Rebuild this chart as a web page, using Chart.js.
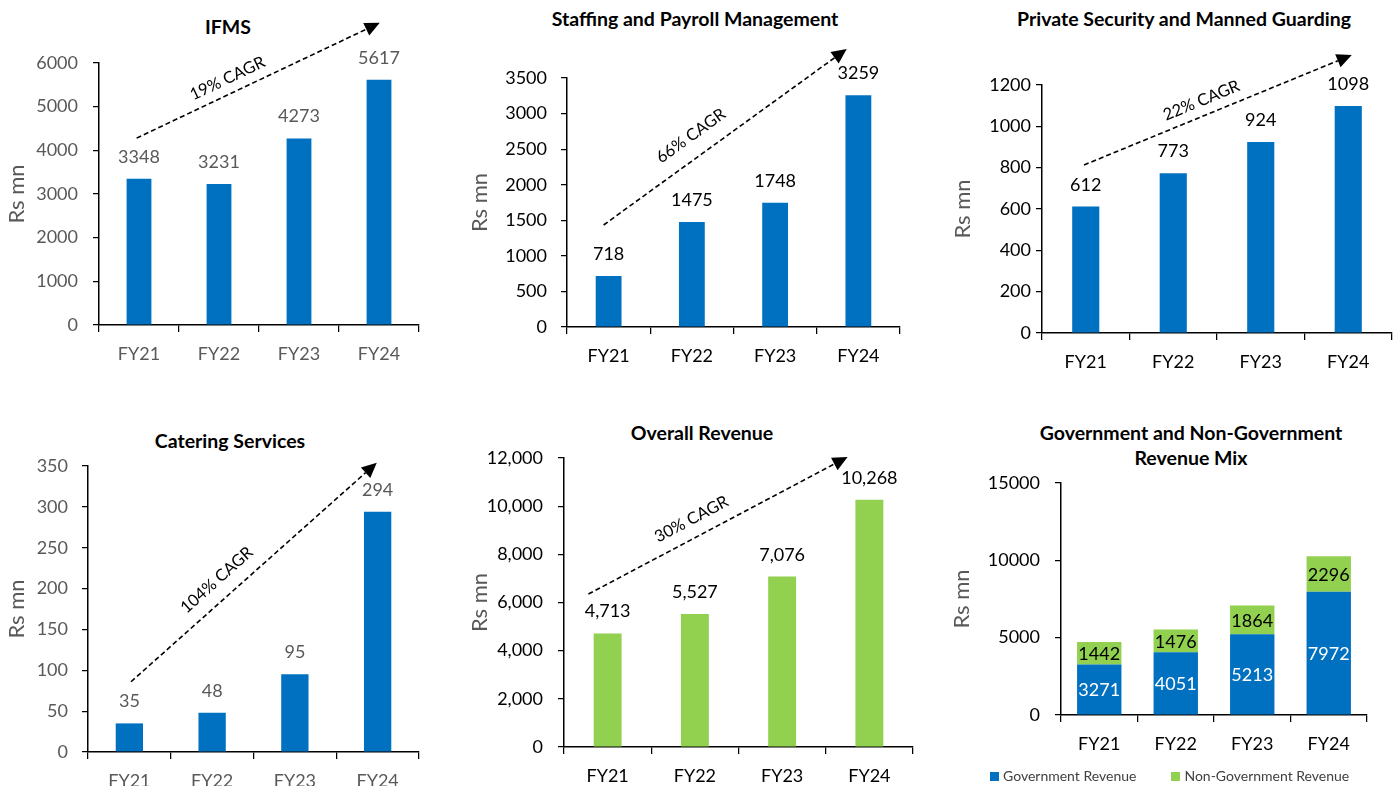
<!DOCTYPE html>
<html lang="en">
<head>
<meta charset="UTF-8" />
<title>Segment revenue FY21-FY24</title>
<script src="https://cdn.jsdelivr.net/npm/chart.js@4.4.1/dist/chart.umd.min.js"></script>
<style>
  html, body { margin: 0; padding: 0; background: #fff; overflow: hidden; }
  body { width: 1400px; height: 786px; position: relative; font-family: Lato, "Open Sans", sans-serif; }
  canvas { position: absolute; }
  .title { position: absolute; width: 500px; text-align: center; font-weight: 700; font-size: 19.5px; line-height: 25px; color: #000; }
  #legend6 { position: absolute; left: 990px; top: 766px; display: flex; font-size: 14px; line-height: 20px; color: #404040; white-space: nowrap; }
  #legend6 .item { display: flex; align-items: center; margin-right: 35px; }
  #legend6 .sw { width: 9px; height: 9px; margin-right: 4px; }
</style>
</head>
<body>
<div class="title" style="left:-22px;top:14px">IFMS</div>
<div class="title" style="left:445px;top:6px">Staffing and Payroll Management</div>
<div class="title" style="left:934px;top:6px">Private Security and Manned Guarding</div>
<div class="title" style="left:-20px;top:428px">Catering Services</div>
<div class="title" style="left:452px;top:420px">Overall Revenue</div>
<div class="title" style="left:941px;top:420px">Government and Non-Government<br>Revenue Mix</div>

<canvas id="c1" width="460" height="390" style="left:0;top:0"></canvas>
<canvas id="c2" width="470" height="390" style="left:460px;top:0"></canvas>
<canvas id="c3" width="470" height="390" style="left:930px;top:0"></canvas>
<canvas id="c4" width="460" height="390" style="left:0;top:410px"></canvas>
<canvas id="c5" width="470" height="390" style="left:460px;top:410px"></canvas>
<canvas id="c6" width="470" height="390" style="left:930px;top:410px"></canvas>
<div id="legend6"></div>

<script>
// values in Rs mn
const years = ["FY21", "FY22", "FY23", "FY24"];
const ifms = [3348, 3231, 4273, 5617];
const staffing = [718, 1475, 1748, 3259];
const security = [612, 773, 924, 1098];
const catering = [35, 48, 95, 294];
const overall = [4713, 5527, 7076, 10268];
const govRevenue = [3271, 4051, 5213, 7972];
const nonGovRevenue = [1442, 1476, 1864, 2296];
const cagr = ["19% CAGR", "66% CAGR", "22% CAGR", "104% CAGR", "30% CAGR"];

const BLUE = "#0070C0";
const GREEN = "#92D050";
const GREY = "#595959";

Chart.defaults.font.family = "Lato, 'Open Sans', sans-serif";

const plain = v => String(v);
const comma = v => Number(v).toLocaleString("en-US");

// value labels: above the bar, or centred in each stacked segment
const valueLabels = {
  id: "valueLabels",
  afterDatasetsDraw(chart, args, opts) {
    const ctx = chart.ctx;
    ctx.save();
    ctx.font = "18px Lato, 'Open Sans', sans-serif";
    ctx.textAlign = "center";
    chart.data.datasets.forEach((ds, i) => {
      chart.getDatasetMeta(i).data.forEach((bar, j) => {
        const txt = opts.fmt(ds.data[j]);
        if (opts.inside) {
          ctx.fillStyle = ds.labelColor;
          ctx.textBaseline = "middle";
          ctx.fillText(txt, bar.x, (bar.y + bar.base) / 2 + 1);
        } else {
          ctx.fillStyle = opts.color;
          ctx.textBaseline = "alphabetic";
          ctx.fillText(txt, bar.x, bar.y - 16);
        }
      });
    });
    ctx.restore();
  }
};

// dashed growth arrow with the CAGR text along it
const cagrArrow = {
  id: "cagrArrow",
  afterDraw(chart, args, opts) {
    if (!opts.from) return;
    const xs = chart.scales.x, ys = chart.scales.y, ctx = chart.ctx;
    const x0 = xs.getPixelForValue(opts.from[0]), y0 = ys.getPixelForValue(opts.from[1]);
    const x1 = xs.getPixelForValue(opts.to[0]), y1 = ys.getPixelForValue(opts.to[1]);
    const a = Math.atan2(y1 - y0, x1 - x0);
    const head = 15, half = 7;
    const bx = x1 - head * Math.cos(a), by = y1 - head * Math.sin(a);
    ctx.save();
    ctx.strokeStyle = "#000";
    ctx.fillStyle = "#000";
    ctx.lineWidth = 1.6;
    ctx.setLineDash([5, 3]);
    ctx.beginPath();
    ctx.moveTo(x0, y0);
    ctx.lineTo(bx, by);
    ctx.stroke();
    ctx.setLineDash([]);
    ctx.beginPath();
    ctx.moveTo(x1, y1);
    ctx.lineTo(bx + half * Math.sin(a), by - half * Math.cos(a));
    ctx.lineTo(bx - half * Math.sin(a), by + half * Math.cos(a));
    ctx.closePath();
    ctx.fill();
    const tx = x0 + (x1 - x0) * opts.t + opts.off * Math.sin(a);
    const ty = y0 + (y1 - y0) * opts.t - opts.off * Math.cos(a);
    ctx.translate(tx, ty);
    ctx.rotate(a);
    ctx.font = "16.5px Lato, 'Open Sans', sans-serif";
    ctx.textAlign = "center";
    ctx.textBaseline = "middle";
    ctx.fillText(opts.label, 0, 0);
    ctx.restore();
  }
};

const panels = [
  { id: "c1", box: [0, 0, 460, 390], area: [99, 63, 419, 325], yw: 94, titleX: 17,
    max: 6000, step: 1000, tickPad: 15, color: GREY, bar: 0.31, fmt: plain,
    sets: [{ data: ifms, color: BLUE }],
    arrow: { from: [-0.03, 4280], to: [3.01, 6920], label: cagr[0], t: 0.40, off: 15 } },
  { id: "c2", box: [460, 0, 930, 390], area: [567, 78, 900, 327], yw: 99, titleX: 480,
    max: 3500, step: 500, tickPad: 14, color: "#000", bar: 0.31, fmt: plain,
    sets: [{ data: staffing, color: BLUE }],
    arrow: { from: [-0.06, 1434], to: [2.86, 3908], label: cagr[1], t: 0.41, off: 21 } },
  { id: "c3", box: [930, 0, 1400, 390], area: [1042, 85, 1392, 333], yw: 91, titleX: 963,
    max: 1200, step: 200, tickPad: 5, color: "#000", bar: 0.31, fmt: plain,
    sets: [{ data: security, color: BLUE }],
    arrow: { from: [-0.02, 813], to: [3.04, 1345], label: cagr[2], t: 0.46, off: 15 } },
  { id: "c4", box: [0, 410, 460, 800], area: [88, 466, 419, 752], yw: 83, titleX: 17,
    max: 350, step: 50, tickPad: 14, color: GREY, bar: 0.33, fmt: plain,
    sets: [{ data: catering, color: BLUE }],
    arrow: { from: [0.02, 86], to: [2.99, 354], label: cagr[3], t: 0.40, off: 19 } },
  { id: "c5", box: [460, 410, 930, 800], area: [564, 458, 913, 747], yw: 96, titleX: 480,
    max: 12000, step: 2000, tickPad: 15, color: "#000", bar: 0.32, fmt: comma,
    sets: [{ data: overall, color: GREEN }],
    arrow: { from: [-0.22, 6350], to: [2.75, 12040], label: cagr[4], t: 0.43, off: 18 } },
  { id: "c6", box: [930, 410, 1400, 800], area: [1061, 483, 1367, 715], yw: 99, titleX: 962,
    max: 15000, step: 5000, tickPad: 15, color: "#000", bar: 0.58, fmt: plain, stacked: true,
    sets: [
      { label: "Government Revenue", data: govRevenue, color: BLUE, labelColor: "#fff" },
      { label: "Non-Government Revenue", data: nonGovRevenue, color: GREEN, labelColor: "#000" }
    ] }
];

const XH = 40;

const charts = panels.map(p => {
  const [bl, bt, br, bb] = p.box;
  const [al, at, ar, ab] = p.area;
  const stacked = !!p.stacked;
  return new Chart(document.getElementById(p.id), {
    type: "bar",
    data: {
      labels: years,
      datasets: p.sets.map(s => ({
        label: s.label || "",
        data: s.data,
        backgroundColor: s.color,
        labelColor: s.labelColor,
        barPercentage: p.bar,
        categoryPercentage: 1
      }))
    },
    plugins: [valueLabels, cagrArrow],
    options: {
      responsive: false,
      animation: false,
      layout: {
        padding: { left: al - bl - p.yw, top: at - bt, right: br - ar, bottom: bb - ab - XH }
      },
      plugins: {
        legend: { display: false },
        tooltip: { enabled: false },
        valueLabels: { fmt: p.fmt, color: p.color, inside: stacked },
        cagrArrow: p.arrow || {}
      },
      scales: {
        x: {
          stacked,
          grid: { display: true, drawOnChartArea: false, offset: true, tickLength: 7, color: "#000", lineWidth: 1.25 },
          border: { color: "#000", width: 1.5 },
          ticks: { color: p.color, font: { size: 18 }, padding: 11 },
          afterFit: s => { s.height = XH; }
        },
        y: {
          stacked,
          min: 0,
          max: p.max,
          grid: { drawOnChartArea: false, tickLength: 6, color: "#000", lineWidth: 1.25 },
          border: { color: "#000", width: 1.5 },
          ticks: { stepSize: p.step, color: p.color, font: { size: 18 }, padding: p.tickPad, callback: v => p.fmt(v) },
          title: {
            display: true,
            text: "Rs mn",
            color: GREY,
            font: { size: 22 },
            padding: { top: p.titleX - (al - p.yw) - 13, bottom: 0 }
          },
          afterFit: s => { s.width = p.yw; }
        }
      }
    }
  });
});

// legend for the stacked revenue-mix chart, built from its datasets
const mix = charts[5];
document.getElementById("legend6").innerHTML = mix.data.datasets
  .map(ds => `<span class="item"><span class="sw" style="background:${ds.backgroundColor}"></span>${ds.label}</span>`)
  .join("");
</script>
</body>
</html>
